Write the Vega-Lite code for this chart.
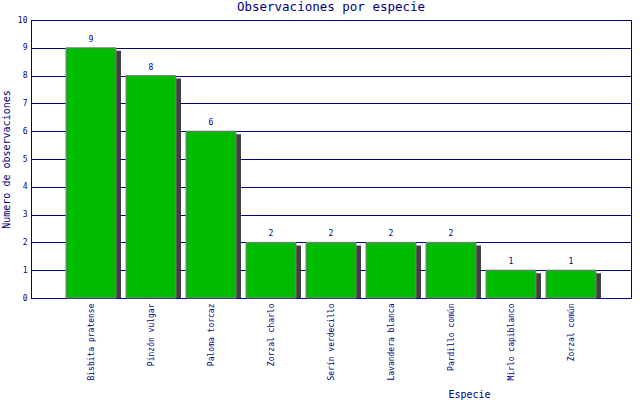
{
  "$schema": "https://vega.github.io/schema/vega-lite/v6.json",
  "autosize": "none",
  "width": 600,
  "height": 278,
  "padding": {"left": 31, "top": 20, "right": 9, "bottom": 102},
  "background": "white",
  "title": {
    "text": "Observaciones por especie",
    "font": "DejaVu Sans Mono",
    "fontSize": 12.5,
    "fontWeight": "normal",
    "color": "#000080",
    "offset": 3,
    "anchor": "middle"
  },
  "config": {
    "view": {"stroke": "#000080", "strokeWidth": 1},
    "axis": {
      "labelFont": "DejaVu Sans Mono",
      "titleFont": "DejaVu Sans Mono",
      "labelColor": "#000080",
      "titleColor": "#000080",
      "domainColor": "#000080",
      "gridColor": "#000080",
      "gridOpacity": 1,
      "tickColor": "#000080",
      "titleFontWeight": "normal"
    }
  },
  "data": {
    "values": [
      {"especie": "Bisbita pratense", "n": 9},
      {"especie": "Pinzón vulgar", "n": 8},
      {"especie": "Paloma torcaz", "n": 6},
      {"especie": "Zorzal charlo", "n": 2},
      {"especie": "Serín verdecillo", "n": 2},
      {"especie": "Lavandera blanca", "n": 2},
      {"especie": "Pardillo común", "n": 2},
      {"especie": "Mirlo capiblanco", "n": 1},
      {"especie": "Zorzal común", "n": 1}
    ]
  },
  "encoding": {
    "x": {
      "field": "especie",
      "type": "nominal",
      "sort": null,
      "scale": {"paddingInner": 0, "paddingOuter": 0.5},
      "axis": {
        "title": "Especie",
        "titleFontSize": 10,
        "titleX": 438,
        "titleY": 101,
        "titleBaseline": "bottom",
        "labelAngle": -90,
        "labelFontSize": 8,
        "labelPadding": 5,
        "ticks": false,
        "domain": true,
        "labelOffset": 1
      }
    },
    "y": {
      "field": "n",
      "type": "quantitative",
      "scale": {"domain": [0, 10], "nice": false},
      "axis": {
        "title": "Numero de observaciones",
        "titleFontSize": 10,
        "titleX": -20,
        "titleBaseline": "bottom",
        "labelFontSize": 8,
        "values": [0, 1, 2, 3, 4, 5, 6, 7, 8, 9, 10],
        "labelOverlap": false,
        "ticks": false,
        "labelPadding": 4,
        "grid": true
      }
    }
  },
  "layer": [
    {
      "mark": {
        "type": "bar",
        "color": "#404040",
        "width": {"band": 0.8333},
        "xOffset": 5,
        "yOffset": 3,
        "clip": true
      },
      "encoding": {}
    },
    {
      "mark": {
        "type": "bar",
        "color": "#00BB00",
        "stroke": "#808080",
        "strokeWidth": 1,
        "width": {"band": 0.8333}
      },
      "encoding": {}
    },
    {
      "mark": {
        "type": "text",
        "font": "DejaVu Sans Mono",
        "fontSize": 8,
        "color": "#000080",
        "dy": -8
      },
      "encoding": {"text": {"field": "n", "type": "quantitative"}}
    }
  ]
}
